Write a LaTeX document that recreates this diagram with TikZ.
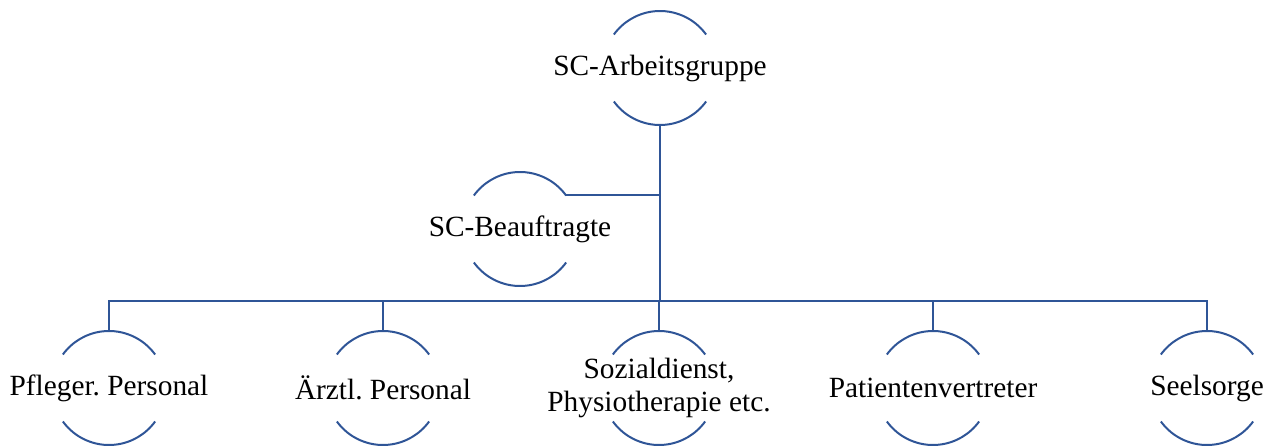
\documentclass[tikz,border=0pt]{standalone}
\usepackage{fontspec}
\setmainfont{Liberation Serif}
\definecolor{lineblue}{HTML}{2F5597}
\begin{document}
\begin{tikzpicture}[x=0.75pt,y=-0.75pt,
  ring/.style={circle,minimum size=85.5pt,inner sep=0pt,outer sep=0pt},
  lbl/.style={font=\fontsize{22pt}{24.75pt}\selectfont\frenchspacing,inner sep=0pt},
  ln/.style={draw=lineblue,line width=1.5pt}]
\useasboundingbox (0,0) rectangle (1279,446);
\newcommand{\ringarcs}[1]{%
  \draw[ln] (#1.36) arc[start angle=36,end angle=144,radius=42.75pt];
  \draw[ln] (#1.216) arc[start angle=216,end angle=324,radius=42.75pt];}
\node[ring] (top) at (660,68) {};
\node[ring] (b) at (520,229) {};
\node[ring] (p1) at (109,388) {};
\node[ring] (p2) at (383,388) {};
\node[ring] (p3) at (659,388) {};
\node[ring] (p4) at (933,388) {};
\node[ring] (p5) at (1207,388) {};
\foreach \n in {top,b,p1,p2,p3,p4,p5} {\ringarcs{\n}}
\node[lbl] (ttop) at (top) {SC-Arbeitsgruppe};
\node[lbl] (tb) at (b) {SC-Beauftragte};
\node[lbl] (tp1) at (p1) {Pfleger. Personal};
\node[lbl] (tp2) at (p2) {Ärztl. Personal};
\node[lbl,align=center] (tp3) at (p3) {Sozialdienst,\\Physiotherapie etc.};
\node[lbl] (tp4) at (p4) {Patientenvertreter};
\node[lbl] (tp5) at (p5) {Seelsorge};
\coordinate (bus) at (0,301);
\draw[ln] (top.south) -- (top.south |- bus);
\draw[ln] (b.36) -- (b.36 -| top.south);
\draw[ln] (p1.north) -- (p1.north |- bus) -- (p5.north |- bus) -- (p5.north);
\foreach \n in {p2,p3,p4} {\draw[ln] (\n.north) -- (\n.north |- bus);}
\end{tikzpicture}
\end{document}
